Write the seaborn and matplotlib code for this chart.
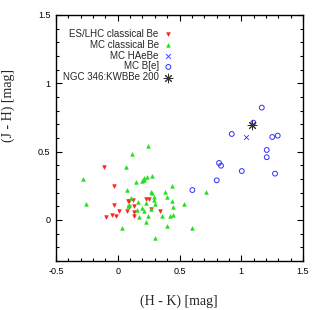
import numpy as np
import pandas as pd
import matplotlib
matplotlib.use("Agg")
import matplotlib.pyplot as plt
import seaborn as sns
from matplotlib.ticker import MultipleLocator

# ES/LHC classical Be
es_hk = [-0.111, -0.030, 0.085, -0.028, 0.013, 0.072, -0.049, -0.098, -0.018, 0.091,
         0.126, 0.229, 0.253, 0.134, 0.267, 0.342, 0.134, 0.134, 0.093]
es_jh = [0.386, 0.249, 0.137, 0.108, 0.068, 0.068, 0.037, 0.020, 0.026, 0.141,
         0.146, 0.154, 0.154, 0.102, 0.078, 0.066, 0.059, 0.027, 0.093]

# MC classical Be
mc_hk = [0.064, -0.279, 0.072, -0.257, 0.032, 0.243, 0.113, 0.234, 0.280, 0.215,
         0.199, 0.145, 0.269, 0.280, 0.383, 0.442, 0.396, 0.107, 0.166, 0.296,
         0.296, 0.226, 0.302, 0.437, 0.534, 0.445, 0.091, 0.194, 0.153, 0.215,
         0.269, 0.172, 0.243, 0.356, 0.423, 0.450, 0.226, 0.396, 0.599, 0.302,
         0.712, 0.215, 0.085]
mc_jh = [0.390, 0.298, 0.219, 0.119, -0.056, 0.541, 0.481, 0.317, 0.322, 0.293,
         0.285, 0.280, 0.207, 0.200, 0.208, 0.249, 0.166, 0.159, 0.134, 0.165,
         0.146, 0.127, 0.117, 0.139, 0.117, 0.097, 0.110, 0.086, 0.073, 0.068,
         0.077, 0.020, 0.029, 0.029, 0.029, 0.037, -0.012, -0.042, -0.061, -0.134,
         0.207, 0.305, 0.105]

# MC HAeBe
hae_hk = [1.036]
hae_jh = [0.609]

# MC B[e]
bfe_hk = [1.166, 1.098, 0.923, 1.251, 1.295, 1.206, 1.206, 0.820, 0.836, 1.004,
          1.273, 0.801, 0.604]
bfe_jh = [0.822, 0.712, 0.629, 0.607, 0.617, 0.512, 0.459, 0.417, 0.397, 0.358,
          0.339, 0.290, 0.219]

# NGC 346:KWBBe 200
ngc_hk = [1.089]
ngc_jh = [0.695]

sns.set_style("ticks")
plt.rcParams['font.family'] = ['Liberation Sans', 'DejaVu Sans']
plt.rcParams['xtick.direction'] = 'in'
plt.rcParams['ytick.direction'] = 'in'

fig = plt.figure(figsize=(3.18, 3.10), dpi=100)
ax = fig.add_axes([0.176, 0.158, 0.777, 0.794])

sns.scatterplot(x=es_hk, y=es_jh, ax=ax, marker='v', s=7, color='#ff2020',
                edgecolor='#ff2020', linewidth=0.4, label='ES/LHC classical Be')
sns.scatterplot(x=mc_hk, y=mc_jh, ax=ax, marker='^', s=7, color='#20e020',
                edgecolor='#20e020', linewidth=0.4, label='MC classical Be')
sns.scatterplot(x=hae_hk, y=hae_jh, ax=ax, marker='x', s=12, color='#3030ff',
                linewidth=0.6, label='MC HAeBe')
sns.scatterplot(x=bfe_hk, y=bfe_jh, ax=ax, marker='o', s=12, facecolor='none',
                edgecolor='#3030ff', linewidth=0.7, label='MC B[e]')
sns.scatterplot(x=ngc_hk, y=ngc_jh, ax=ax, marker=(8, 2, 0), s=40, color='#303030',
                edgecolor='#303030', linewidth=0.7, label='NGC 346:KWBBe 200')

ax.set_xlim(-0.5, 1.5)
ax.set_ylim(-0.3, 1.5)
ax.xaxis.set_major_locator(MultipleLocator(0.5))
ax.yaxis.set_major_locator(MultipleLocator(0.5))
ax.xaxis.set_minor_locator(MultipleLocator(0.1))
ax.yaxis.set_minor_locator(MultipleLocator(0.1))
ax.xaxis.set_major_formatter(plt.FuncFormatter(lambda v, p: f"{v:g}"))
ax.yaxis.set_major_formatter(plt.FuncFormatter(lambda v, p: f"{v:g}"))
ax.tick_params(which='both', top=True, right=True, labelsize=6.5, colors='black',
               width=0.8, pad=4)
ax.tick_params(which='major', length=4)
ax.tick_params(which='minor', length=2)
for sp in ax.spines.values():
    sp.set_linewidth(1.0)
    sp.set_color('black')

ax.set_xlabel("(H - K) [mag]", family='Liberation Serif', fontsize=10)
ax.set_ylabel("(J - H) [mag]", family='Liberation Serif', fontsize=10)
ax.xaxis.set_label_coords(0.498, -0.138)
ax.yaxis.set_label_coords(-0.166, 0.63)

leg = ax.legend(loc='upper left', bbox_to_anchor=(0.0, 0.972), frameon=False,
                markerfirst=False, fontsize=7, handlelength=0.8, handletextpad=0.6,
                labelspacing=0.1, borderaxespad=0.3)

fig.savefig("out.png", dpi=100)
